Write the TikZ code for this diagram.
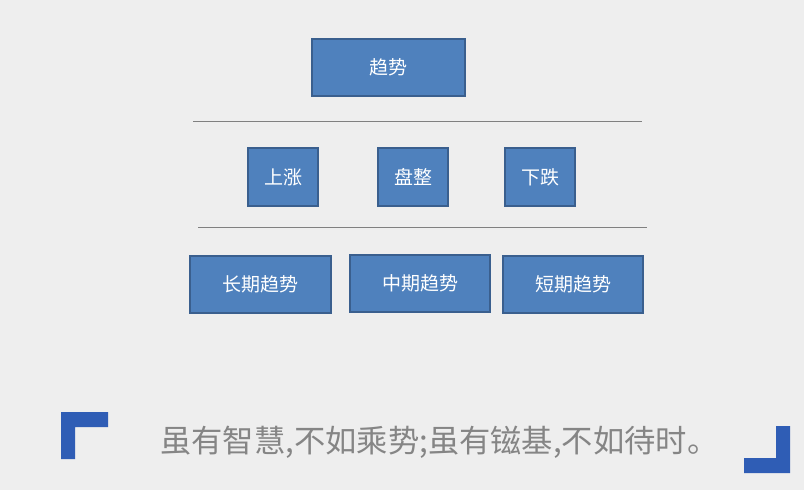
\documentclass[tikz,border=0pt]{standalone}
\usepackage{fontspec}
\newfontfamily\cjk{Noto Sans CJK SC}
\definecolor{bg}{HTML}{EEEEEE}
\definecolor{boxfill}{HTML}{4F81BD}
\definecolor{boxline}{HTML}{3A5F8E}
\definecolor{corner}{HTML}{2F5DB5}
\definecolor{quote}{HTML}{858585}
\begin{document}
\begin{tikzpicture}[x=1pt,y=-1pt,
  bluebox/.style={draw=boxline,line width=1.5pt,fill=boxfill,text=white,font=\cjk\fontsize{19}{19}\selectfont,inner sep=0pt},
  sepline/.style={draw=gray,line width=0.6pt}]
\fill[bg] (0,0) rectangle (804,490);
\useasboundingbox (0,0) rectangle (804,490);
% top
\node[bluebox,minimum width=153pt,minimum height=57pt] (trend) at (388.5,67.5) {趋势};
\coordinate (l1a) at (193,121); \coordinate (l1b) at (642,121);
\draw[sepline] (l1a) -- (l1b);
\node[bluebox,minimum width=70pt,minimum height=58pt] (up) at (283,177) {上涨};
\node[bluebox,minimum width=70pt,minimum height=58pt] (flat) at (413,177) {盘整};
\node[bluebox,minimum width=70pt,minimum height=58pt] (down) at (540,177) {下跌};
\coordinate (l2a) at (198,227); \coordinate (l2b) at (647,227);
\draw[sepline] (l2a) -- (l2b);
\node[bluebox,minimum width=141pt,minimum height=57pt] (long) at (260.5,284.5) {长期趋势};
\node[bluebox,minimum width=140pt,minimum height=57pt] (mid) at (420,283.5) {中期趋势};
\node[bluebox,minimum width=140pt,minimum height=57pt] (short) at (573,284.5) {短期趋势};
% corners
\fill[corner] (61,412) -- (108,412) -- (108,427) -- (75,427) -- (75,459) -- (61,459) -- cycle;
\fill[corner] (790,426) -- (790,473) -- (744,473) -- (744,458) -- (776,458) -- (776,426) -- cycle;
% quote
\node[text=quote,font=\cjk\fontsize{31.3}{31.3}\selectfont,anchor=west,inner sep=0pt] (q) at (160,442) {虽有智慧,不如乘势;虽有镃基,不如待时。};
\end{tikzpicture}
\end{document}
